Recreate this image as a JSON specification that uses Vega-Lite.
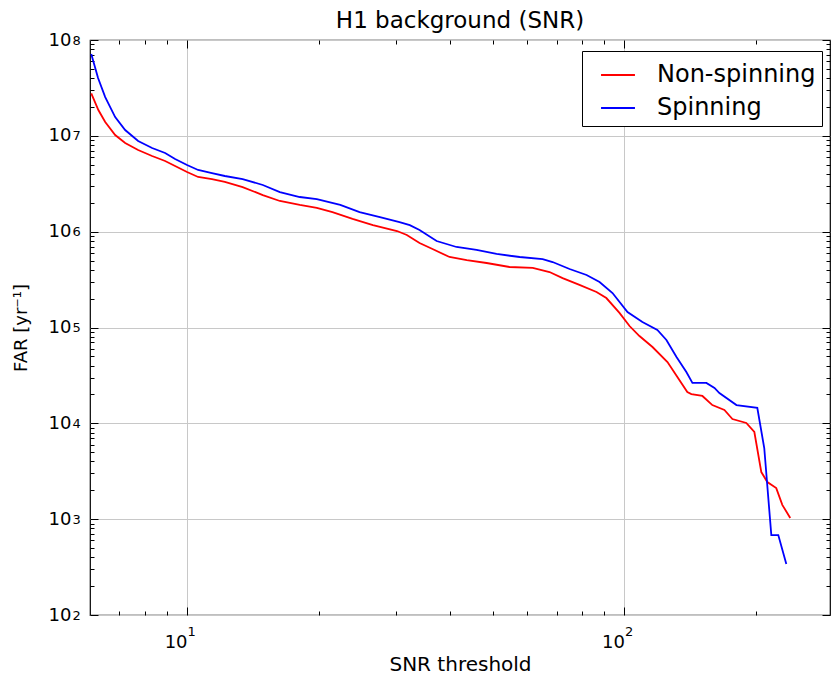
{
  "$schema": "https://vega.github.io/schema/vega-lite/v6.json",
  "width": 740,
  "height": 575,
  "autosize": "none",
  "padding": {"left": 90, "top": 40, "right": 2, "bottom": 60},
  "background": "white",
  "config": {
    "font": "DejaVu Sans",
    "view": {"stroke": "black", "strokeWidth": 1.2},
    "axis": {"labelFont": "DejaVu Sans", "titleFont": "DejaVu Sans", "labelColor": "black", "titleColor": "black", "titleFontWeight": "normal"}
  },
  "title": {"text": "H1 background (SNR)", "fontSize": 23, "fontWeight": "normal", "font": "DejaVu Sans", "color": "black", "offset": -2, "anchor": "middle"},
  "resolve": {"axis": {"x": "independent", "y": "independent"}},
  "data": {"values": [
    {"snr": 6.04, "far": 27800000, "type": "Non-spinning"},
    {"snr": 6.27, "far": 18600000, "type": "Non-spinning"},
    {"snr": 6.50, "far": 13940000, "type": "Non-spinning"},
    {"snr": 6.85, "far": 10200000, "type": "Non-spinning"},
    {"snr": 7.22, "far": 8420000, "type": "Non-spinning"},
    {"snr": 7.73, "far": 7110000, "type": "Non-spinning"},
    {"snr": 8.32, "far": 6160000, "type": "Non-spinning"},
    {"snr": 8.91, "far": 5460000, "type": "Non-spinning"},
    {"snr": 9.39, "far": 4840000, "type": "Non-spinning"},
    {"snr": 10.0, "far": 4190000, "type": "Non-spinning"},
    {"snr": 10.6, "far": 3720000, "type": "Non-spinning"},
    {"snr": 11.4, "far": 3540000, "type": "Non-spinning"},
    {"snr": 12.2, "far": 3300000, "type": "Non-spinning"},
    {"snr": 13.4, "far": 2920000, "type": "Non-spinning"},
    {"snr": 14.9, "far": 2410000, "type": "Non-spinning"},
    {"snr": 16.3, "far": 2090000, "type": "Non-spinning"},
    {"snr": 18.1, "far": 1900000, "type": "Non-spinning"},
    {"snr": 19.8, "far": 1770000, "type": "Non-spinning"},
    {"snr": 21.5, "far": 1600000, "type": "Non-spinning"},
    {"snr": 23.9, "far": 1360000, "type": "Non-spinning"},
    {"snr": 26.6, "far": 1170000, "type": "Non-spinning"},
    {"snr": 30.2, "far": 1016000, "type": "Non-spinning"},
    {"snr": 31.8, "far": 923000, "type": "Non-spinning"},
    {"snr": 34.0, "far": 761000, "type": "Non-spinning"},
    {"snr": 36.4, "far": 659000, "type": "Non-spinning"},
    {"snr": 39.8, "far": 544000, "type": "Non-spinning"},
    {"snr": 43.6, "far": 506000, "type": "Non-spinning"},
    {"snr": 48.4, "far": 471000, "type": "Non-spinning"},
    {"snr": 54.6, "far": 428000, "type": "Non-spinning"},
    {"snr": 61.7, "far": 418000, "type": "Non-spinning"},
    {"snr": 67.4, "far": 379000, "type": "Non-spinning"},
    {"snr": 72.2, "far": 328000, "type": "Non-spinning"},
    {"snr": 78.9, "far": 278000, "type": "Non-spinning"},
    {"snr": 86.3, "far": 235000, "type": "Non-spinning"},
    {"snr": 90.9, "far": 203000, "type": "Non-spinning"},
    {"snr": 97.4, "far": 142000, "type": "Non-spinning"},
    {"snr": 102.7, "far": 103600, "type": "Non-spinning"},
    {"snr": 108.2, "far": 81500, "type": "Non-spinning"},
    {"snr": 115.9, "far": 62600, "type": "Non-spinning"},
    {"snr": 125.4, "far": 43600, "type": "Non-spinning"},
    {"snr": 132.1, "far": 30400, "type": "Non-spinning"},
    {"snr": 139.2, "far": 21200, "type": "Non-spinning"},
    {"snr": 142.2, "far": 20200, "type": "Non-spinning"},
    {"snr": 150.7, "far": 19300, "type": "Non-spinning"},
    {"snr": 158.8, "far": 15500, "type": "Non-spinning"},
    {"snr": 169.2, "far": 13800, "type": "Non-spinning"},
    {"snr": 176.5, "far": 11100, "type": "Non-spinning"},
    {"snr": 189.9, "far": 10080, "type": "Non-spinning"},
    {"snr": 198.1, "far": 8120, "type": "Non-spinning"},
    {"snr": 205.5, "far": 3100, "type": "Non-spinning"},
    {"snr": 212.1, "far": 2440, "type": "Non-spinning"},
    {"snr": 222.3, "far": 2110, "type": "Non-spinning"},
    {"snr": 229.5, "far": 1410, "type": "Non-spinning"},
    {"snr": 239.3, "far": 1030, "type": "Non-spinning"},
    {"snr": 6.04, "far": 71400000, "type": "Spinning"},
    {"snr": 6.26, "far": 40100000, "type": "Spinning"},
    {"snr": 6.50, "far": 25400000, "type": "Spinning"},
    {"snr": 6.85, "far": 15700000, "type": "Spinning"},
    {"snr": 7.22, "far": 11500000, "type": "Spinning"},
    {"snr": 7.73, "far": 8830000, "type": "Spinning"},
    {"snr": 8.32, "far": 7460000, "type": "Spinning"},
    {"snr": 8.91, "far": 6620000, "type": "Spinning"},
    {"snr": 9.39, "far": 5730000, "type": "Spinning"},
    {"snr": 10.0, "far": 4960000, "type": "Spinning"},
    {"snr": 10.6, "far": 4400000, "type": "Spinning"},
    {"snr": 11.4, "far": 4090000, "type": "Spinning"},
    {"snr": 12.2, "far": 3810000, "type": "Spinning"},
    {"snr": 13.4, "far": 3540000, "type": "Spinning"},
    {"snr": 14.9, "far": 3070000, "type": "Spinning"},
    {"snr": 16.3, "far": 2590000, "type": "Spinning"},
    {"snr": 18.1, "far": 2300000, "type": "Spinning"},
    {"snr": 19.8, "far": 2190000, "type": "Spinning"},
    {"snr": 22.4, "far": 1900000, "type": "Spinning"},
    {"snr": 24.8, "far": 1600000, "type": "Spinning"},
    {"snr": 27.6, "far": 1420000, "type": "Spinning"},
    {"snr": 30.6, "far": 1260000, "type": "Spinning"},
    {"snr": 32.3, "far": 1170000, "type": "Spinning"},
    {"snr": 34.0, "far": 1040000, "type": "Spinning"},
    {"snr": 37.2, "far": 799000, "type": "Spinning"},
    {"snr": 41.3, "far": 692000, "type": "Spinning"},
    {"snr": 45.9, "far": 644000, "type": "Spinning"},
    {"snr": 51.0, "far": 585000, "type": "Spinning"},
    {"snr": 57.6, "far": 544000, "type": "Spinning"},
    {"snr": 65.0, "far": 518000, "type": "Spinning"},
    {"snr": 68.5, "far": 482000, "type": "Spinning"},
    {"snr": 74.9, "far": 408000, "type": "Spinning"},
    {"snr": 81.9, "far": 353000, "type": "Spinning"},
    {"snr": 87.7, "far": 298000, "type": "Spinning"},
    {"snr": 93.9, "far": 229000, "type": "Spinning"},
    {"snr": 101.6, "far": 145000, "type": "Spinning"},
    {"snr": 109.9, "far": 114000, "type": "Spinning"},
    {"snr": 118.9, "far": 94200, "type": "Spinning"},
    {"snr": 124.7, "far": 74100, "type": "Spinning"},
    {"snr": 131.5, "far": 49200, "type": "Spinning"},
    {"snr": 138.5, "far": 34300, "type": "Spinning"},
    {"snr": 143.0, "far": 26400, "type": "Spinning"},
    {"snr": 153.9, "far": 26400, "type": "Spinning"},
    {"snr": 160.6, "far": 23400, "type": "Spinning"},
    {"snr": 164.8, "far": 20700, "type": "Spinning"},
    {"snr": 180.3, "far": 15500, "type": "Spinning"},
    {"snr": 201.2, "far": 14500, "type": "Spinning"},
    {"snr": 208.7, "far": 5530, "type": "Spinning"},
    {"snr": 216.6, "far": 683, "type": "Spinning"},
    {"snr": 224.7, "far": 683, "type": "Spinning"},
    {"snr": 234.4, "far": 340, "type": "Spinning"}
  ]},
  "layer": [
    {
      "mark": {"type": "line", "strokeWidth": 1.8, "clip": true},
      "encoding": {
        "x": {
          "field": "snr", "type": "quantitative",
          "scale": {"type": "log", "domain": [6, 295], "nice": false},
          "axis": {
            "orient": "bottom",
            "title": "SNR threshold", "titleFontSize": 20, "titlePadding": -1,
            "values": [7, 8, 9, 10, 20, 30, 40, 50, 60, 70, 80, 90, 100, 200],
            "labelExpr": "abs(log(datum.value)/LN10 - round(log(datum.value)/LN10)) < 0.001 ? '10' : ''",
            "labelFontSize": 18, "labelPadding": 26, "labelAlign": "right", "labelDx": 6, "labelFlush": false, "labelOverlap": false,
            "domain": false,
            "tickColor": "black", "tickWidth": 1,
            "tickSize": {"condition": {"test": "abs(log(datum.value)/LN10 - round(log(datum.value)/LN10)) < 0.001", "value": -8}, "value": -4},
            "grid": true, "gridColor": "#c8c8c8", "gridWidth": 1,
            "gridOpacity": {"condition": {"test": "abs(log(datum.value)/LN10 - round(log(datum.value)/LN10)) < 0.001", "value": 1}, "value": 0}
          }
        },
        "y": {
          "field": "far", "type": "quantitative",
          "scale": {"type": "log", "domain": [100, 100000000], "nice": false},
          "axis": {
            "orient": "left",
            "title": "FAR [yr⁻¹]", "titleFontSize": 18, "titlePadding": 18,
            "values": [100, 200, 300, 400, 500, 600, 700, 800, 900, 1000, 2000, 3000, 4000, 5000, 6000, 7000, 8000, 9000, 10000, 20000, 30000, 40000, 50000, 60000, 70000, 80000, 90000, 100000, 200000, 300000, 400000, 500000, 600000, 700000, 800000, 900000, 1000000, 2000000, 3000000, 4000000, 5000000, 6000000, 7000000, 8000000, 9000000, 10000000, 20000000, 30000000, 40000000, 50000000, 60000000, 70000000, 80000000, 90000000, 100000000],
            "labelExpr": "abs(log(datum.value)/LN10 - round(log(datum.value)/LN10)) < 0.001 ? '10' : ''",
            "labelFontSize": 18, "labelPadding": 27, "labelDy": 2, "labelFlush": false, "labelOverlap": false,
            "domain": false,
            "tickColor": "black", "tickWidth": 1,
            "tickSize": {"condition": {"test": "abs(log(datum.value)/LN10 - round(log(datum.value)/LN10)) < 0.001", "value": -8}, "value": -4},
            "grid": true, "gridColor": "#c8c8c8", "gridWidth": 1,
            "gridOpacity": {"condition": {"test": "abs(log(datum.value)/LN10 - round(log(datum.value)/LN10)) < 0.001", "value": 1}, "value": 0}
          }
        },
        "color": {
          "field": "type", "type": "nominal",
          "scale": {"domain": ["Non-spinning", "Spinning"], "range": ["#ff0000", "#0000ff"]},
          "legend": {
            "title": null, "orient": "none", "legendX": 492, "legendY": 11,
            "symbolType": "stroke", "symbolSize": 1150, "symbolStrokeWidth": 1.8, "symbolOffset": 12,
            "labelFontSize": 24, "labelFont": "DejaVu Sans", "labelColor": "black", "labelOffset": 21,
            "rowPadding": 3, "padding": 6, "strokeColor": "black", "fillColor": "white",
            "cornerRadius": 0
          }
        }
      }
    },
    {
      "mark": {"type": "line", "opacity": 0},
      "encoding": {
        "x": {
          "field": "snr", "type": "quantitative",
          "axis": {
            "orient": "top", "title": null, "labels": false, "domain": false, "grid": false,
            "values": [7, 8, 9, 10, 20, 30, 40, 50, 60, 70, 80, 90, 100, 200],
            "tickColor": "black", "tickWidth": 1,
            "tickSize": {"condition": {"test": "abs(log(datum.value)/LN10 - round(log(datum.value)/LN10)) < 0.001", "value": -8}, "value": -4}
          }
        },
        "y": {
          "field": "far", "type": "quantitative",
          "axis": {
            "orient": "right", "title": null, "labels": false, "domain": false, "grid": false,
            "values": [100, 200, 300, 400, 500, 600, 700, 800, 900, 1000, 2000, 3000, 4000, 5000, 6000, 7000, 8000, 9000, 10000, 20000, 30000, 40000, 50000, 60000, 70000, 80000, 90000, 100000, 200000, 300000, 400000, 500000, 600000, 700000, 800000, 900000, 1000000, 2000000, 3000000, 4000000, 5000000, 6000000, 7000000, 8000000, 9000000, 10000000, 20000000, 30000000, 40000000, 50000000, 60000000, 70000000, 80000000, 90000000, 100000000],
            "tickColor": "black", "tickWidth": 1,
            "tickSize": {"condition": {"test": "abs(log(datum.value)/LN10 - round(log(datum.value)/LN10)) < 0.001", "value": -8}, "value": -4}
          }
        },
        "detail": {"field": "type", "type": "nominal"}
      }
    },
    {
      "mark": {"type": "line", "opacity": 0},
      "encoding": {
        "x": {
          "field": "snr", "type": "quantitative",
          "axis": {
            "orient": "bottom", "title": null, "domain": false, "grid": false, "ticks": false,
            "values": [10, 100],
            "labelExpr": "'' + round(log(datum.value)/LN10)",
            "labelFontSize": 13, "labelPadding": 10, "labelAlign": "left", "labelDx": 7, "labelFlush": false, "labelOverlap": false
          }
        },
        "y": {
          "field": "far", "type": "quantitative",
          "axis": {
            "orient": "left", "title": null, "domain": false, "grid": false, "ticks": false,
            "values": [100, 1000, 10000, 100000, 1000000, 10000000, 100000000],
            "labelExpr": "'' + round(log(datum.value)/LN10)",
            "labelFontSize": 13, "labelPadding": 18, "labelAlign": "left", "labelDy": -8, "labelFlush": false, "labelOverlap": false
          }
        },
        "detail": {"field": "type", "type": "nominal"}
      }
    }
  ]
}
